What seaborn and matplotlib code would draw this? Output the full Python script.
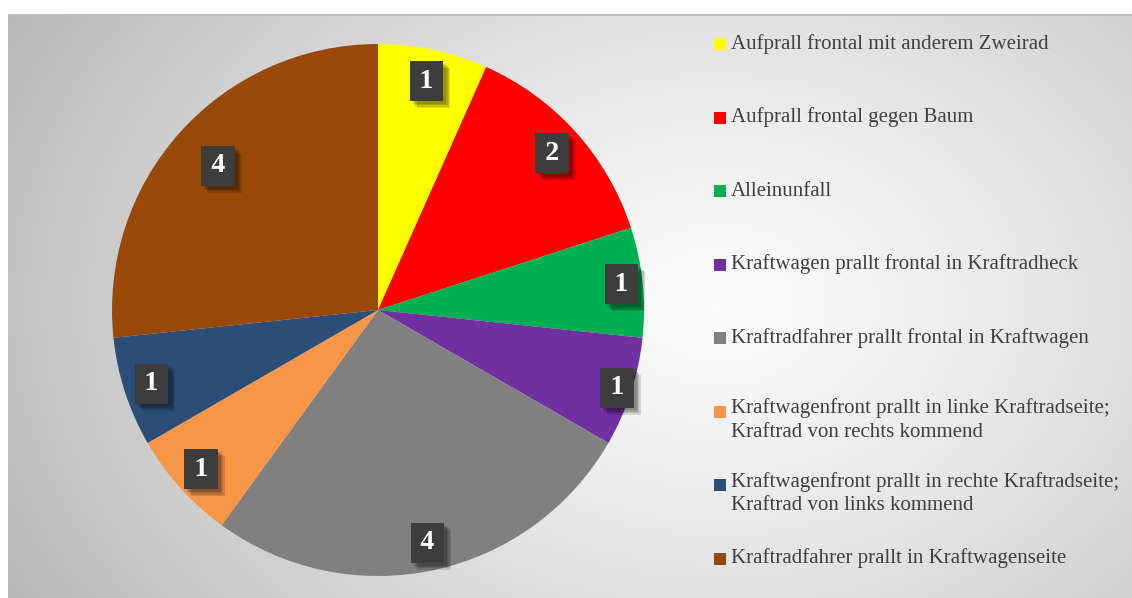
import numpy as np
import seaborn as sns
import matplotlib.pyplot as plt
import matplotlib.patheffects as pe
from matplotlib.patches import Rectangle

# data
categories = [
    "Aufprall frontal mit anderem Zweirad",
    "Aufprall frontal gegen Baum",
    "Alleinunfall",
    "Kraftwagen prallt frontal in Kraftradheck",
    "Kraftradfahrer prallt frontal in Kraftwagen",
    "Kraftwagenfront prallt in linke Kraftradseite;\nKraftrad von rechts kommend",
    "Kraftwagenfront prallt in rechte Kraftradseite;\nKraftrad von links kommend",
    "Kraftradfahrer prallt in Kraftwagenseite",
]
counts = [1, 2, 1, 1, 4, 1, 1, 4]
colors = ["#FFFF00", "#FF0000", "#00B050", "#7030A0",
          "#808080", "#F79646", "#2C4D78", "#984807"]
# radial position of each value label (fraction of radius)
label_r = [0.88, 0.88, 0.92, 0.945, 0.895, 0.895, 0.895, 0.81]

sns.set_theme(style="white")
plt.rcParams["font.family"] = ["Liberation Serif", "DejaVu Serif"]

W, H = 1132, 598
fig = plt.figure(figsize=(W / 100, H / 100), dpi=100)
fig.patch.set_facecolor("white")

# radial gradient background panel
bg = fig.add_axes([8 / W, 0, 1 - 8 / W, (H - 14) / H])
bg.set_axis_off()
yy, xx = np.mgrid[0:584, 0:1124]
cx, cy = 710, 290
d = np.sqrt(((xx - cx) / 700) ** 2 + ((yy - cy) / 520) ** 2)
shade = 0.985 - 0.22 * np.clip(d, 0, 1.2) ** 1.3
bg.imshow(np.dstack([shade] * 3), aspect="auto", extent=[0, 1, 0, 1])
bg.axhline(1, color="#bdbdbd", lw=2)

# pie
ax = fig.add_axes([112 / W, 22 / H, 532 / W, 532 / H])
wedges, texts, autotexts = ax.pie(
    counts, colors=colors, startangle=90, counterclock=False,
    wedgeprops=dict(linewidth=0),
    autopct=lambda p: f"\u200a{round(p * sum(counts) / 100):d}\u200a",
    pctdistance=0.88,
    textprops=dict(color="white", fontsize=20, fontweight="bold"),
)
ax.set_xlim(-1, 1)
ax.set_ylim(-1, 1)
ax.set_aspect("equal")

shadow = [pe.SimplePatchShadow(offset=(o, -o), shadow_rgbFace="black", alpha=0.13)
          for o in (5, 4, 3, 2)]
for t, w, r in zip(autotexts, wedges, label_r):
    ang = np.deg2rad((w.theta1 + w.theta2) / 2)
    t.set_position((r * np.cos(ang), r * np.sin(ang)))
    t.set_bbox(dict(boxstyle="square,pad=0.27", facecolor="#3d3d3d", edgecolor="none"))
    t.get_bbox_patch().set_path_effects(shadow + [pe.Normal()])

# legend
y0, step = 44, 73.5
for i, (lab, col) in enumerate(zip(categories, colors)):
    y = y0 + i * step
    fig.patches.append(Rectangle((714 / W, (H - y - 6) / H), 12 / W, 12 / H,
                                 transform=fig.transFigure, facecolor=col,
                                 edgecolor="none"))
    multi = "\n" in lab
    fig.text(731 / W, (H - y + (13 if multi else 0)) / H, lab, fontsize=15,
             color="#404040", va="top" if multi else "center",
             linespacing=1.3)

fig.savefig("out.png", dpi=100)
